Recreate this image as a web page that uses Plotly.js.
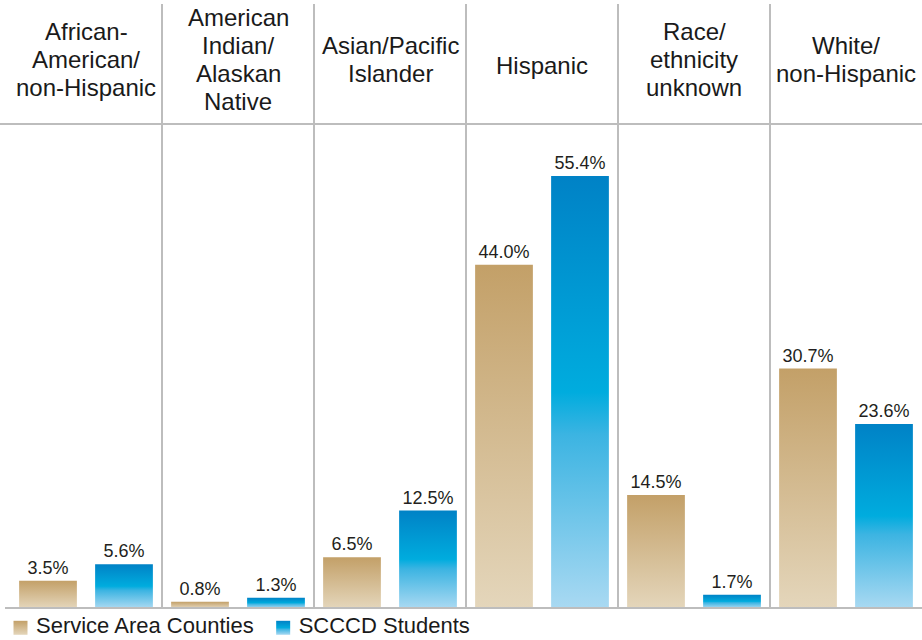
<!DOCTYPE html>
<html>
<head>
<meta charset="utf-8">
<script src="https://cdn.plot.ly/plotly-3.0.1.min.js"></script>
<style>
html,body{margin:0;padding:0;background:#fff;}
#chart{width:922px;height:640px;}
</style>
</head>
<body>
<div id="chart"></div>
<script>
const categories = ["African-American/non-Hispanic", "American Indian/Alaskan Native", "Asian/Pacific Islander", "Hispanic", "Race/ethnicity unknown", "White/non-Hispanic"];
const headerLines = [["African-", "American/", "non-Hispanic"], ["American", "Indian/", "Alaskan", "Native"], ["Asian/Pacific", "Islander"], ["Hispanic"], ["Race/", "ethnicity", "unknown"], ["White/", "non-Hispanic"]];
const serviceArea = [3.5, 0.8, 6.5, 44.0, 14.5, 30.7];
const scccdStudents = [5.6, 1.3, 12.5, 55.4, 1.7, 23.6];
const seriesNames = ["Service Area Counties", "SCCCD Students"];

const FONT = '"Liberation Sans", Arial, Helvetica, sans-serif';
const W = 922, H = 640, ML = 10, MR = 0, MT = 124, MB = 32;
const PW = W - ML - MR, PH = H - MT - MB;
const PX_PER_PCT = 7.8;

const traces = [
  {type:'bar', name:seriesNames[0], x:categories, y:serviceArea, marker:{color:'#d1b88c'},
   text:serviceArea.map(v=>v.toFixed(1)+'%'), textposition:'outside', cliponaxis:false,
   textfont:{family:FONT,size:18,color:'#231f20'}, hoverinfo:'skip'},
  {type:'bar', name:seriesNames[1], x:categories, y:scccdStudents, marker:{color:'#1aa3d8'},
   text:scccdStudents.map(v=>v.toFixed(1)+'%'), textposition:'outside', cliponaxis:false,
   textfont:{family:FONT,size:18,color:'#231f20'}, hoverinfo:'skip'}
];

const shapes = [];
for (let i = 0; i < categories.length - 1; i++) {
  shapes.push({type:'line', xref:'x', yref:'paper', x0:i+0.5, x1:i+0.5, y0:0, y1:1+(MT-4)/PH,
    line:{color:'#bdbdbd', width:2}});
}
shapes.push({type:'line', xref:'paper', yref:'paper', x0:-ML/PW, x1:1, y0:1, y1:1, line:{color:'#bdbdbd', width:2}});
shapes.push({type:'line', xref:'paper', yref:'paper', x0:-(ML-5)/PW, x1:1, y0:0, y1:0, line:{color:'#bdbdbd', width:2}});

// header lines: one annotation per line, 28px line spacing
const annotations = [];
headerLines.forEach((lines,i)=>{
  const n = lines.length;
  const mid = n === 1 ? 74 : 68;  // baseline of middle line (px from top)
  lines.forEach((ln,k)=>{
    const baseline = mid + 28*(k-(n-1)/2);
    const centerPx = baseline - 8.5;
    annotations.push({xref:'x', yref:'paper', x:i, y:1+(MT-centerPx)/PH, yanchor:'middle', xanchor:'center',
      text:ln, showarrow:false, font:{family:FONT, size:24, color:'#1a1a1a'}});
  });
});

const layout = {
  width:W, height:H,
  margin:{l:ML, r:MR, t:MT, b:MB, pad:0, autoexpand:false},
  paper_bgcolor:'#fff', plot_bgcolor:'#fff',
  barmode:'group', bargap:0, bargroupgap:0.24,
  xaxis:{type:'category', range:[-0.5,5.5], showticklabels:false, showgrid:false, zeroline:false, showline:false, ticks:''},
  yaxis:{range:[0, PH/PX_PER_PCT], showticklabels:false, showgrid:false, zeroline:false, showline:false, ticks:''},
  showlegend:true,
  legend:{orientation:'h', x:-14/PW, xanchor:'left', y:0, yanchor:'top', font:{family:FONT, size:22, color:'#1a1a1a'},
    bgcolor:'rgba(0,0,0,0)', traceorder:'normal'},
  shapes:shapes,
  annotations:annotations,
  font:{family:FONT}
};

Plotly.newPlot('chart', traces, layout, {staticPlot:true, displayModeBar:false}).then(gd=>{
  const svg = gd.querySelector('.main-svg');
  const ns = 'http://www.w3.org/2000/svg';
  let defs = svg.querySelector('defs');
  if (!defs) { defs = document.createElementNS(ns,'defs'); svg.insertBefore(defs, svg.firstChild); }
  function grad(id, stops){
    const g = document.createElementNS(ns,'linearGradient');
    g.setAttribute('id', id); g.setAttribute('x1','0'); g.setAttribute('y1','0'); g.setAttribute('x2','0'); g.setAttribute('y2','1');
    stops.forEach(s=>{const st=document.createElementNS(ns,'stop'); st.setAttribute('offset',s[0]); st.setAttribute('stop-color',s[1]); g.appendChild(st);});
    defs.appendChild(g);
  }
  grad('gTan', [[0,'#c3a068'],[1,'#e4d6bb']]);
  grad('gBlue', [[0,'#0082c6'],[0.5,'#00acde'],[0.6,'#3cb4e2'],[1,'#a9d9f2']]);
  const ids = ['gTan','gBlue'];
  gd.querySelectorAll('.barlayer .trace').forEach((t,i)=>{
    t.querySelectorAll('path').forEach(p=>{p.style.fill='url(#'+ids[i]+')';});
  });
  gd.querySelectorAll('.legend .traces').forEach((t,i)=>{
    t.querySelectorAll('.legendpoints path').forEach(p=>{
      p.setAttribute('d','M11.5,10H-2.5V-4H11.5Z');
      p.style.fill='url(#'+ids[i]+')'; p.style.stroke='none';});
  });
  // nudge the legend up a few pixels
  const lg = gd.querySelector('.legend');
  if (lg) {
    const tr = lg.getAttribute('transform') || '';
    const m = tr.match(/translate\(([-\d.e]+)[ ,]+([-\d.e]+)\)/);
    if (m) lg.setAttribute('transform', 'translate(' + m[1] + ',' + (parseFloat(m[2]) - 4) + ')');
  }
});
</script>
</body>
</html>
